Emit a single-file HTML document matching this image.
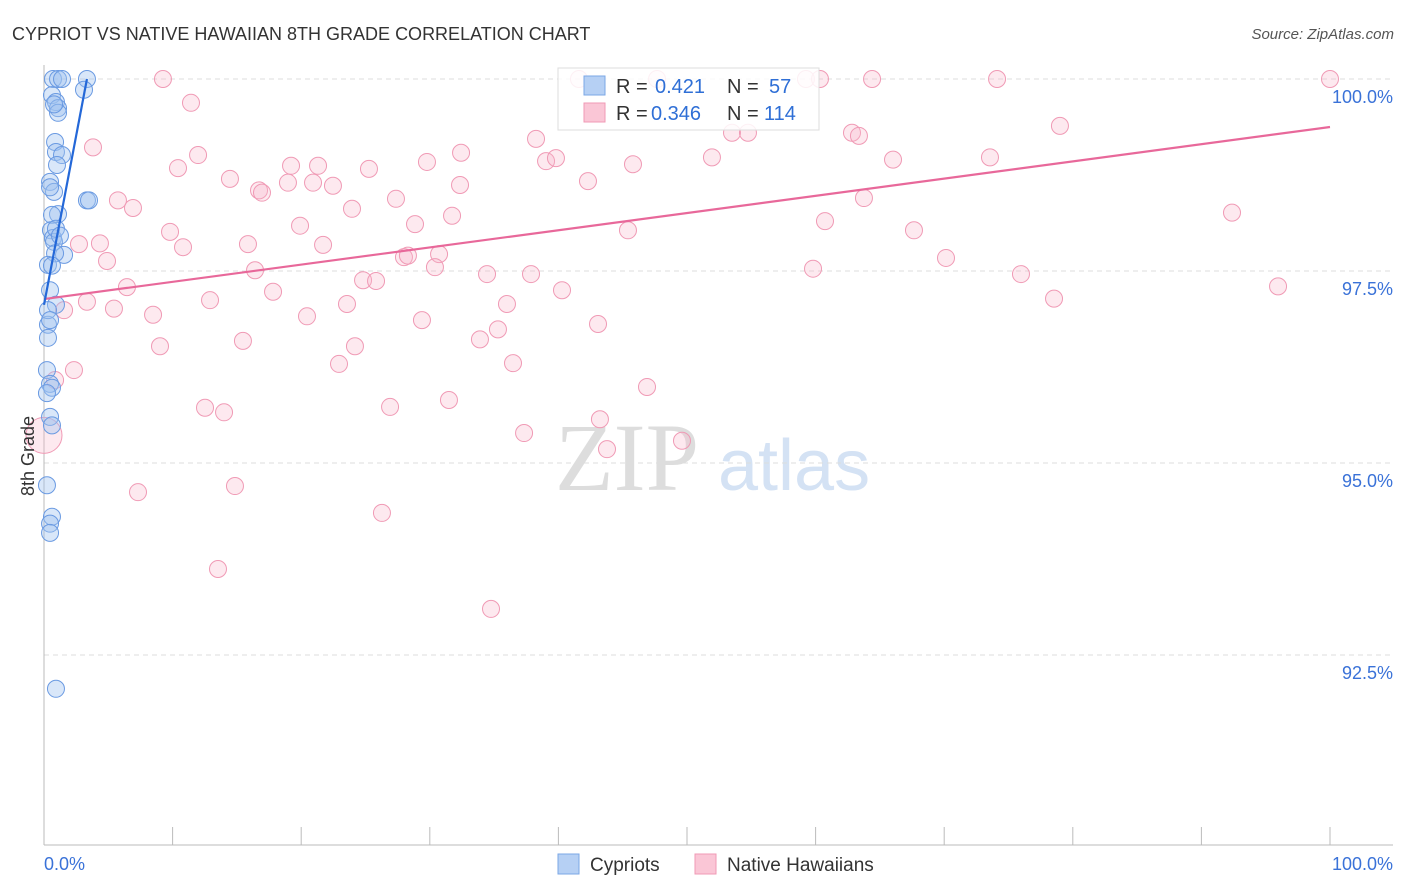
<!DOCTYPE html>
<html><head><meta charset="utf-8"><style>
body{margin:0;background:#fff;font-family:"Liberation Sans",sans-serif}
svg{display:block}
</style></head><body>
<svg id="chart" width="1406" height="892" xmlns="http://www.w3.org/2000/svg">
<text x="12" y="40" font-size="18" fill="#333">CYPRIOT VS NATIVE HAWAIIAN 8TH GRADE CORRELATION CHART</text>
<text x="1394" y="39" font-size="15" fill="#555" font-style="italic" text-anchor="end">Source: ZipAtlas.com</text>
<g>
<text x="555" y="490" font-size="96" fill="#ddd" font-family="Liberation Serif,serif">ZIP</text>
<text x="718" y="490" font-size="72" fill="#d4e2f4">atlas</text>
</g>
<g id="grid"></g>
<g id="axes"></g>
<g id="pts"></g>
<g id="trends"></g>
<g>
<rect x="558" y="68" width="261" height="62" fill="#fff" fill-opacity="0.85" stroke="#ddd"/>
<rect x="584" y="76" width="21" height="19" fill="#b6d0f4" stroke="#7ba7e6"/>
<text x="616" y="93" font-size="20" fill="#333">R =</text>
<text x="655" y="93" font-size="20" fill="#2f6fd6">0.421</text>
<text x="727" y="93" font-size="20" fill="#333">N =</text>
<text x="769" y="93" font-size="20" fill="#2f6fd6">57</text>
<rect x="584" y="103" width="21" height="19" fill="#fac6d6" stroke="#f09ab5"/>
<text x="616" y="120" font-size="20" fill="#333">R =</text>
<text x="651" y="120" font-size="20" fill="#2f6fd6">0.346</text>
<text x="727" y="120" font-size="20" fill="#333">N =</text>
<text x="764" y="120" font-size="20" fill="#2f6fd6">114</text>
</g>
<g>
<rect x="558" y="854" width="21" height="20" fill="#b6d0f4" stroke="#7ba7e6"/>
<text x="590" y="871" font-size="19" fill="#333">Cypriots</text>
<rect x="695" y="854" width="21" height="20" fill="#fac6d6" stroke="#f09ab5"/>
<text x="727" y="871" font-size="19" fill="#333">Native Hawaiians</text>
</g>
<text transform="translate(34,456) rotate(-90)" font-size="18" fill="#333" text-anchor="middle">8th Grade</text>
</svg>
<script>
const yTicks=[100,97.5,95,92.5];
const yTickLabels=["100.0%","97.5%","95.0%","92.5%"];
const xTicks=[0,10,20,30,40,50,60,70,80,90,100];
const blueX=[0.70,1.09,1.40,3.34,3.11,0.62,0.93,1.09,1.09,0.78,0.86,0.93,1.40,1.01,0.47,0.78,0.47,3.34,3.50,1.09,0.62,0.54,0.70,0.78,1.56,0.86,0.31,0.62,0.47,0.93,0.31,0.31,0.23,0.47,0.62,0.23,0.47,0.62,0.23,0.62,0.47,0.47,0.93,0.31,0.47,0.93,1.24];
const blueY=[100,100,100,100,99.86,99.79,99.70,99.62,99.56,99.67,99.18,99.05,99.01,98.88,98.66,98.53,98.59,98.42,98.42,98.24,98.23,98.03,97.93,97.88,97.71,97.73,97.58,97.57,97.25,97.06,96.80,96.63,96.21,96.03,95.98,95.91,95.60,95.49,94.71,94.30,94.21,94.09,92.06,96.99,96.86,98.05,97.96];
const pinkX=[9.25,11.43,3.81,11.98,10.42,14.46,16.72,16.95,18.97,19.21,21.31,20.92,22.47,25.27,29.78,32.43,32.35,27.37,23.95,28.85,31.73,19.91,5.75,6.92,9.80,10.81,15.86,21.70,4.35,4.90,2.72,16.41,6.45,3.34,5.44,1.56,8.48,12.91,17.81,20.45,23.56,24.81,25.82,27.99,28.30,30.72,30.40,34.45,37.87,40.28,36.00,29.39,35.30,33.90,24.18,22.94,15.47,9.02,2.33,0.86,12.52,14.00,26.91,31.49,36.47,43.08,46.89,37.33,43.23,43.78,49.61,7.31,14.85,26.28,13.53,34.76,38.26,39.04,39.81,42.30,41.60,47.67,45.80,45.41,51.94,53.50,54.74,59.25,60.34,64.39,62.83,63.37,66.02,63.76,60.73,67.65,59.80,70.14,73.56,74.11,75.97,78.54,79.00,92.38,100,95.96];
const pinkY=[100,99.69,99.11,99.01,98.84,98.70,98.55,98.52,98.65,98.87,98.87,98.65,98.61,98.83,98.92,99.04,98.62,98.44,98.31,98.11,98.22,98.09,98.42,98.32,98.01,97.81,97.85,97.84,97.86,97.63,97.85,97.51,97.29,97.10,97.01,96.99,96.93,97.12,97.23,96.91,97.07,97.38,97.37,97.68,97.70,97.72,97.55,97.46,97.46,97.25,97.07,96.86,96.74,96.61,96.52,96.29,96.59,96.52,96.21,96.08,95.72,95.66,95.73,95.82,96.30,96.81,95.99,95.39,95.57,95.18,95.29,94.62,94.70,94.35,93.62,93.10,99.22,98.93,98.97,98.67,100,100,98.89,98.03,98.98,99.30,99.30,100,100,100,99.30,99.26,98.95,98.45,98.15,98.03,97.53,97.67,98.98,100,97.46,97.14,99.39,98.26,100,97.30];
const pinkTrend=[[0,97.135],[100,99.375]];
const blueTrend=[[0,97.06],[3.34,100]];
const NS="http://www.w3.org/2000/svg";
const X=v=>44+v*12.86, Y=v=>79+(100-v)*76.8;
function mk(t,a,p){const e=document.createElementNS(NS,t);for(const k in a)e.setAttribute(k,a[k]);document.getElementById(p).appendChild(e);return e;}
yTicks.forEach((t,i)=>{
 const l=mk('line',{x1:44,x2:1393,y1:Y(t),y2:Y(t),stroke:'#ddd','stroke-dasharray':'5,4'},'grid');
 
 
 const tx=mk('text',{x:1393,y:Y(t)+24,'font-size':18,fill:'#3a72d8','text-anchor':'end'},'grid');
 tx.textContent=yTickLabels[i];
 
 
});
const ax=mk('line',{x1:44,x2:1393,y1:845,y2:845,stroke:'#bbb'},'axes');


const ay=mk('line',{x1:44,x2:44,y1:65,y2:845,stroke:'#bbb'},'axes');


xTicks.forEach(t=>{const l=mk('line',{x1:X(t),x2:X(t),y1:827,y2:845,stroke:'#bbb'},'axes');
 
 });
const x0=mk('text',{x:44,y:870,'font-size':18,fill:'#3a72d8'},'axes');x0.textContent='0.0%';


const x1=mk('text',{x:1393,y:870,'font-size':18,fill:'#3a72d8','text-anchor':'end'},'axes');x1.textContent='100.0%';


pinkX.forEach((v,i)=>{const c=mk('circle',{cx:X(v),cy:Y(pinkY[i]),r:8.5,fill:'#f7b6ca','fill-opacity':0.3,stroke:'#f09ab5','stroke-width':1},'pts');
 
 });
const big=mk('circle',{cx:X(0),cy:Y(95.36),r:18,fill:'#f7b6ca','fill-opacity':0.3,stroke:'#f09ab5'},'pts');


blueX.forEach((v,i)=>{const c=mk('circle',{cx:X(v),cy:Y(blueY[i]),r:8.5,fill:'#9fc2f0','fill-opacity':0.4,stroke:'#6a9ae2','stroke-width':1},'pts');
 
 });
const tp=mk('line',{x1:X(pinkTrend[0][0]),y1:Y(pinkTrend[0][1]),x2:X(pinkTrend[1][0]),y2:Y(pinkTrend[1][1]),stroke:'#e8689a','stroke-width':2.2},'trends');


const tb=mk('line',{x1:X(blueTrend[0][0]),y1:Y(blueTrend[0][1]),x2:X(blueTrend[1][0]),y2:Y(blueTrend[1][1]),stroke:'#2468d8','stroke-width':2.2},'trends');


</script>
</body></html>
